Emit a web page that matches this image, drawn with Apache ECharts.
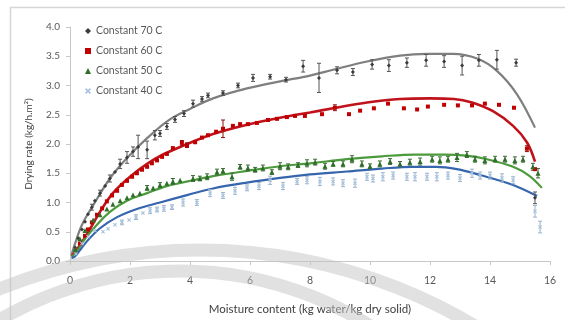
<!DOCTYPE html>
<html>
<head>
<meta charset="utf-8">
<script src="https://cdn.jsdelivr.net/npm/echarts@6/dist/echarts.min.js"></script>
<style>
  html, body { margin: 0; padding: 0; background: #ffffff; }
  #chart { width: 565px; height: 320px; }
</style>
</head>
<body>
<div id="chart"></div>
<script>
// Drying rate vs moisture content at four constant air temperatures

const seriesNames = ['Constant 70 C', 'Constant 60 C', 'Constant 50 C', 'Constant 40 C'];

// Measured points (moisture content, drying rate) and standard errors
const x70 = [0.17,0.27,0.4,0.5,0.6,0.73,0.83,1.0,1.17,1.33,1.5,1.67,1.9,2.1,2.27,2.57,2.83,3.0,3.23,3.5,3.8,4.1,4.4,4.6,5.1,5.6,6.1,6.67,7.2,7.77,8.3,8.9,9.43,10.07,10.63,11.23,11.87,12.47,13.07,13.63,14.23,14.87,15.5];
const y70 = [0.23,0.39,0.54,0.67,0.8,0.92,1.03,1.16,1.28,1.41,1.52,1.66,1.77,1.87,1.95,1.9,2.15,2.18,2.3,2.42,2.52,2.69,2.77,2.83,2.87,3.0,3.13,3.15,3.1,3.33,3.13,3.26,3.23,3.36,3.34,3.39,3.43,3.41,3.34,3.43,3.44,3.39,1.08];
const e70 = [0,0,0,0,0,0.05,0,0.05,0,0.06,0,0.08,0.1,0.08,0.2,0.15,0.08,0.05,0.05,0.05,0.05,0.06,0.04,0.04,0.04,0.04,0.06,0.04,0.04,0.1,0.25,0.06,0.06,0.08,0.1,0.08,0.1,0.1,0.16,0.1,0.16,0.06,0.1];

const x60 = [0.33,0.5,0.6,0.73,0.9,1.07,1.23,1.4,1.57,1.73,1.9,2.07,2.23,2.4,2.57,2.73,2.9,3.07,3.23,3.43,3.73,3.9,4.17,4.4,4.6,4.87,5.1,5.43,5.67,5.93,6.23,6.6,6.9,7.23,7.5,7.83,8.4,8.83,9.3,9.67,10.13,10.6,11.13,11.57,11.93,12.47,12.93,13.4,13.83,14.3,14.8,15.23,15.5];
const y60 = [0.3,0.43,0.54,0.66,0.79,0.9,1.02,1.12,1.2,1.3,1.37,1.44,1.5,1.56,1.61,1.67,1.72,1.78,1.83,1.93,2.02,1.98,2.03,2.11,2.15,2.21,2.26,2.31,2.34,2.34,2.36,2.41,2.43,2.46,2.48,2.48,2.51,2.62,2.51,2.57,2.61,2.69,2.61,2.59,2.64,2.67,2.66,2.66,2.69,2.67,2.62,1.92,1.57];
const e60 = [0,0,0,0,0,0,0,0,0,0,0,0,0,0,0,0,0,0,0,0,0.04,0.04,0,0,0,0,0.15,0,0,0,0,0,0,0,0,0,0,0.05,0,0,0,0,0,0,0,0,0,0,0,0,0,0.05,0];

const x50 = [0.17,0.33,0.5,0.77,1.0,1.23,1.43,1.67,1.9,2.1,2.33,2.57,2.77,3.0,3.23,3.43,3.67,4.1,4.33,4.57,4.9,5.1,5.4,5.67,5.93,6.17,6.43,6.73,7.0,7.27,7.6,7.9,8.17,8.5,8.77,9.1,9.4,9.73,10.0,10.33,10.67,11.0,11.33,11.67,12.07,12.33,12.6,12.9,13.23,13.5,13.83,14.17,14.5,14.83,15.1,15.43,15.6];
const y50 = [0.2,0.38,0.52,0.7,0.79,0.89,0.97,1.03,1.08,1.13,1.16,1.25,1.25,1.3,1.33,1.36,1.38,1.41,1.41,1.44,1.52,1.54,1.44,1.61,1.59,1.56,1.59,1.52,1.62,1.61,1.64,1.67,1.69,1.62,1.66,1.66,1.74,1.66,1.62,1.66,1.7,1.66,1.69,1.7,1.74,1.72,1.74,1.77,1.82,1.74,1.72,1.74,1.74,1.72,1.74,1.61,1.5];
const e50 = [0,0,0,0,0,0,0,0,0,0,0,0.04,0,0.04,0,0.05,0,0.05,0.04,0.05,0.05,0.04,0.06,0.04,0.05,0.04,0.05,0.04,0.06,0.05,0.04,0.06,0.05,0.05,0.04,0.05,0.06,0.05,0.04,0.05,0.05,0.04,0.05,0.06,0.05,0.06,0.05,0.07,0.05,0.05,0.06,0.05,0.05,0.06,0.05,0.06,0.08];

const x40 = [0.2,0.4,0.6,0.83,1.1,1.27,1.5,1.73,1.97,2.2,2.43,2.67,2.9,3.13,3.4,3.77,4.23,4.67,5.1,5.5,5.9,6.3,6.67,7.1,7.57,7.9,8.33,8.77,9.1,9.5,9.9,10.1,10.43,10.77,11.23,11.5,11.9,12.23,12.6,13.0,13.4,13.67,14.0,14.4,14.77,15.5,15.67];
const y40 = [0.12,0.3,0.42,0.52,0.5,0.55,0.62,0.66,0.7,0.75,0.82,0.86,0.88,0.9,0.92,1.0,1.0,1.16,1.12,1.2,1.25,1.28,1.38,1.28,1.36,1.38,1.36,1.36,1.33,1.33,1.44,1.41,1.44,1.46,1.44,1.44,1.44,1.44,1.46,1.42,1.5,1.46,1.46,1.42,1.38,0.85,0.58];
const e40 = [0,0,0,0,0,0,0,0.04,0,0.04,0,0.05,0.04,0.05,0.04,0.06,0.05,0.06,0.05,0.06,0.05,0.06,0.07,0.06,0.05,0.06,0.07,0.06,0.06,0.07,0.06,0.06,0.07,0.06,0.06,0.07,0.06,0.07,0.06,0.06,0.07,0.06,0.06,0.07,0.06,0.1,0.1];

// Fitted trend curves, read at intervals along each fit
const fx70 = [0.05,0.17,0.4,0.77,1.33,1.9,2.57,3.33,4.0,4.77,5.9,7.0,8.0,8.77,9.9,11.0,11.9,12.77,13.57,14.23,14.9,15.5];
const fy70 = [0.1,0.3,0.62,0.95,1.41,1.76,2.1,2.42,2.6,2.78,2.95,3.07,3.17,3.27,3.41,3.51,3.54,3.54,3.46,3.25,2.85,2.28];
const fx60 = [0.05,0.17,0.57,1.0,1.43,2.0,2.57,3.1,3.67,4.77,5.9,7.0,8.0,8.77,9.9,11.0,12.0,12.8,13.4,14.1,14.77,15.23,15.5];
const fy60 = [0.08,0.15,0.46,0.84,1.16,1.44,1.66,1.82,1.95,2.17,2.33,2.45,2.54,2.61,2.71,2.77,2.78,2.77,2.71,2.56,2.31,2.03,1.7];
const fx50 = [0.05,0.17,0.5,0.9,1.33,1.9,2.57,3.23,3.93,4.77,5.9,7.0,8.0,9.23,10.4,11.5,12.5,13.2,13.9,14.77,15.3,15.73];
const fy50 = [0.08,0.12,0.38,0.62,0.84,1.03,1.16,1.28,1.36,1.45,1.54,1.62,1.67,1.74,1.79,1.82,1.82,1.8,1.74,1.61,1.46,1.25];
const fx40 = [0.05,0.17,0.57,1.0,1.57,2.23,3.0,3.93,4.77,5.9,7.0,8.0,9.23,10.4,11.4,12.2,12.9,13.67,14.77,15.57];
const fy40 = [0.05,0.08,0.34,0.56,0.75,0.89,1.0,1.13,1.24,1.34,1.42,1.48,1.53,1.58,1.61,1.61,1.57,1.47,1.3,1.11];

const xTicks = [0, 2, 4, 6, 8, 10, 12, 14, 16];
const yTicks = [0, 0.5, 1, 1.5, 2, 2.5, 3, 3.5, 4];

const FONT = 'Lato, "Open Sans", sans-serif';
const markColors = ['#3b3b3b', '#c00000', '#2f6e2a', '#a7c3df'];
const lineColors = ['#7f7f7f', '#c0121a', '#4b9a3c', '#3565ad'];
const barColors  = ['#555555', '#8a1010', '#3b6b34', '#9ab3cc'];
const symbols = ['diamond', 'rect', 'triangle',
  'path://M2,0L5,3L8,0L10,2L7,5L10,8L8,10L5,7L2,10L0,8L3,5L0,2Z'];

const pts = [[x70, y70, e70], [x60, y60, e60], [x50, y50, e50], [x40, y40, e40]];
const fits = [[fx70, fy70], [fx60, fy60], [fx50, fy50], [fx40, fy40]];

const pairs = (xs, ys) => xs.map((x, i) => [x, ys[i]]);

const series = [];
// Fitted curves underneath
fits.forEach(([fx, fy], k) => {
  series.push({
    type: 'line', data: pairs(fx, fy), smooth: 0.35, showSymbol: false,
    silent: true, z: 2,
    lineStyle: { color: lineColors[k], width: k === 1 ? 2.6 : 2.2 }
  });
});
// Error bars
pts.forEach(([xs, ys, es], k) => {
  const data = xs.map((x, i) => [x, ys[i], es[i] || 0]).filter(d => d[2] > 0);
  series.push({
    type: 'custom', silent: true, z: 3,
    renderItem: (params, api) => {
      const x = api.value(0), y = api.value(1), e = api.value(2);
      const hi = api.coord([x, y + e]);
      const lo = api.coord([x, y - e]);
      const st = { stroke: barColors[k], lineWidth: 1 };
      return { type: 'group', children: [
        { type: 'line', shape: { x1: hi[0], y1: hi[1], x2: lo[0], y2: lo[1] }, style: st },
        { type: 'line', shape: { x1: hi[0] - 2, y1: hi[1], x2: hi[0] + 2, y2: hi[1] }, style: st },
        { type: 'line', shape: { x1: lo[0] - 2, y1: lo[1], x2: lo[0] + 2, y2: lo[1] }, style: st }
      ]};
    },
    data: data
  });
});
// Measured points
pts.forEach(([xs, ys], k) => {
  series.push({
    name: seriesNames[k], type: 'scatter', data: pairs(xs, ys), z: 4,
    symbol: symbols[k], symbolSize: k === 2 ? 5 : 4,
    itemStyle: { color: markColors[k], opacity: 1 }
  });
});

const chart = echarts.init(document.getElementById('chart'), null, { renderer: 'canvas' });
chart.setOption({
  animation: false,
  backgroundColor: '#ffffff',
  grid: { left: 70, right: 15, top: 27, bottom: 49, containLabel: false },
  legend: {
    left: 80, top: 19, orient: 'vertical', itemGap: 6,
    itemWidth: 6, itemHeight: 6,
    data: seriesNames.map((n, k) => ({ name: n, icon: symbols[k], itemStyle: { color: markColors[k] } })),
    textStyle: { fontFamily: FONT, fontSize: 10.5, color: '#595959', lineHeight: 14 }
  },
  xAxis: {
    type: 'value', min: xTicks[0], max: xTicks[xTicks.length - 1], interval: 2,
    name: 'Moisture content (kg water/kg dry solid)', nameLocation: 'middle', nameGap: 42,
    nameTextStyle: { fontFamily: FONT, fontSize: 11.5, color: '#404040' },
    axisLine: { lineStyle: { color: '#c8c8c8', width: 1 } },
    axisTick: { show: true, length: 4, lineStyle: { color: '#c8c8c8' } },
    axisLabel: { fontFamily: FONT, fontSize: 10.5, color: '#595959', margin: 14 },
    splitLine: { show: false }
  },
  yAxis: {
    type: 'value', min: yTicks[0], max: yTicks[yTicks.length - 1], interval: 0.5,
    name: 'Drying rate (kg/h.m\u00B2)', nameLocation: 'middle', nameGap: 36, nameRotate: 90,
    nameTextStyle: { fontFamily: FONT, fontSize: 10, color: '#404040' },
    axisLine: { show: true, lineStyle: { color: '#c8c8c8', width: 1 } },
    axisTick: { show: true, length: 4, lineStyle: { color: '#c8c8c8' } },
    axisLabel: { fontFamily: FONT, fontSize: 10, color: '#595959', margin: 10,
      formatter: v => v.toFixed(1) },
    splitLine: { show: false }
  },
  graphic: [
    // outer frame of the figure
    { type: 'rect', shape: { x: 10.5, y: 7.5, width: 600, height: 400 },
      style: { fill: 'none', stroke: '#d6d6d6', lineWidth: 1.5 }, z: 0, silent: true },
    // watermark rings across the lower part
    { type: 'arc', shape: { cx: 200, cy: 785, r: 535, startAngle: Math.PI, endAngle: 2 * Math.PI },
      style: { fill: 'none', stroke: 'rgba(195,195,195,0.5)', lineWidth: 13 }, z: 100, silent: true },
    { type: 'arc', shape: { cx: 180, cy: 628, r: 357, startAngle: Math.PI, endAngle: 2 * Math.PI },
      style: { fill: 'none', stroke: 'rgba(195,195,195,0.5)', lineWidth: 13 }, z: 100, silent: true }
  ],
  series: series
});
</script>
</body>
</html>
